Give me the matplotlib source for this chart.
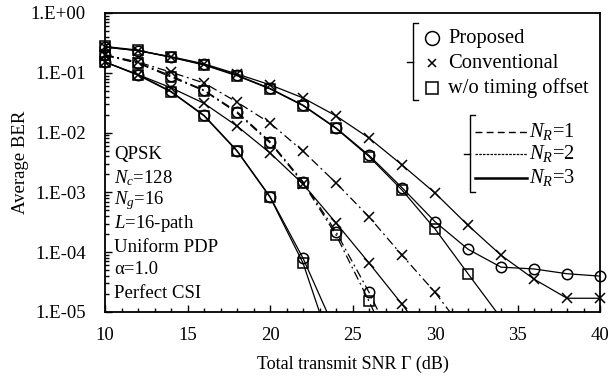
import numpy as np
import matplotlib
matplotlib.use("Agg")
import matplotlib.pyplot as plt
from matplotlib.lines import Line2D
from matplotlib.ticker import FuncFormatter, MultipleLocator, LogLocator, NullFormatter

plt.rcParams['font.family'] = ['Liberation Serif', 'DejaVu Serif']
plt.rcParams['mathtext.fontset'] = 'custom'
plt.rcParams['mathtext.rm'] = 'Liberation Serif'
plt.rcParams['mathtext.it'] = 'Liberation Serif:italic'

# ---------------- data (log10 BER) ----------------
snr = [10, 12, 14, 16, 18, 20, 22, 24, 26, 28, 30, 32, 34, 36, 38, 40]

# group 1 (highest BER, solid lines)
g1_proposed = [-0.57, -0.63, -0.74, -0.86, -1.04, -1.26, -1.54, -1.92, -2.38, -2.92, -3.49, -3.95, -4.25, -4.28, -4.36, -4.40]
g1_conventional = [-0.57, -0.63, -0.73, -0.85, -1.02, -1.20, -1.42, -1.72, -2.09, -2.54, -3.01, -3.55, -4.05, -4.45, -4.77, -4.77]
g1_wo_timing = [-0.56, -0.62, -0.74, -0.87, -1.05, -1.27, -1.55, -1.93, -2.40, -2.96, -3.61, -4.36, -5.10]

# group 2 (middle, dash-dot lines)
g2_proposed = [-0.70, -0.83, -1.05, -1.29, -1.65, -2.15, -2.82, -3.66, -4.67, -5.80]
g2_conventional = [-0.70, -0.82, -0.99, -1.17, -1.49, -1.84, -2.31, -2.84, -3.41, -4.05, -4.67, -5.40]
g2_wo_timing = [-0.71, -0.84, -1.07, -1.30, -1.67, -2.17, -2.84, -3.71, -4.82, -6.00]

# group 3 (lowest BER, solid lines)
g3_proposed = [-0.82, -1.03, -1.31, -1.71, -2.30, -3.07, -4.10, -5.34]
g3_conventional = [-0.82, -1.03, -1.25, -1.51, -1.89, -2.34, -2.86, -3.51, -4.18, -4.87, -5.60]
g3_wo_timing = [-0.82, -1.04, -1.32, -1.72, -2.31, -3.08, -4.18, -5.82]

scheme_labels = ['Proposed', 'Conventional', 'w/o timing offset']
nr_labels = ['$N_R$=1', '$N_R$=2', '$N_R$=3']
params_text = ['QPSK', '$N_c$=128', '$N_g$=16', '$L$=16-path', 'Uniform PDP', '\u03b1=1.0', 'Perfect CSI']

# ---------------- figure ----------------
W, H = 611, 378
fig = plt.figure(figsize=(W / 100, H / 100), dpi=100)
ax = fig.add_axes([105 / W, 1 - 312 / H, (600 - 105) / W, (312 - 13) / H])

markers = {'Proposed': 'o', 'Conventional': 'x', 'w/o timing offset': 's'}
groups = [
    ('-', [g1_proposed, g1_conventional, g1_wo_timing]),
    ((0, (7, 3, 1.5, 3)), [g2_proposed, g2_conventional, g2_wo_timing]),
    ('-', [g3_proposed, g3_conventional, g3_wo_timing]),
]

for ls, series in groups:
    for name, vals in zip(scheme_labels, series):
        x = np.array(snr[:len(vals)], dtype=float)
        y = 10.0 ** np.array(vals)
        ax.plot(x, y, linestyle=ls, color='black', lw=0.9)
        keep = y >= 1e-5
        mk = markers[name]
        ax.plot(x[keep], y[keep], linestyle='none', marker=mk, color='black',
                markerfacecolor='none', markersize=7.5,
                markeredgewidth=1.1, clip_on=False, zorder=3)

ax.set_yscale('log')
ax.set_xlim(10, 40)
ax.set_ylim(1e-5, 1)
ax.xaxis.set_major_locator(MultipleLocator(5))
ax.xaxis.set_minor_locator(MultipleLocator(1))
ax.yaxis.set_major_locator(LogLocator(base=10, numticks=10))
ax.yaxis.set_minor_locator(LogLocator(base=10, subs=np.arange(2, 10), numticks=20))
ax.yaxis.set_minor_formatter(NullFormatter())
ax.yaxis.set_major_formatter(FuncFormatter(lambda v, p: "1.E%+03d" % int(round(np.log10(v)))))
ax.tick_params(which='both', direction='in', top=False, right=False, labelsize=13.5, width=1.0)
ax.tick_params(which='major', length=5)
ax.tick_params(which='minor', length=3)
ax.tick_params(axis='y', which='major', pad=14)
ax.tick_params(axis='x', which='major', pad=11)
for s in ax.spines.values():
    s.set_linewidth(1.3)

ax.set_xlabel('Total transmit SNR \u0393 (dB)', fontsize=13, labelpad=8)
ax.set_ylabel('Average BER', fontsize=13.5, labelpad=1)

# parameter annotations
for i, t in enumerate(params_text):
    fig.text(114 / W, 1 - (155 + i * 23) / H, t, fontsize=13.5, va='center', ha='left')


def fx(px):
    return px / W


def fy(py):
    return 1 - py / H


def bracket(x, y0, y1, ym):
    fig.add_artist(Line2D([fx(x + 5), fx(x), fx(x), fx(x + 5)], [fy(y0), fy(y0), fy(y1), fy(y1)],
                          color='black', lw=1.0))
    fig.add_artist(Line2D([fx(x - 6), fx(x)], [fy(ym), fy(ym)], color='black', lw=1.0))


# legend 1: schemes
bracket(413, 23, 100, 62)
for name, yy in zip(scheme_labels, [38, 63, 88]):
    mk = markers[name]
    fig.add_artist(Line2D([fx(432)], [fy(yy)], marker=mk, color='black', markerfacecolor='none',
                          markersize=10 if mk == 'o' else (6 if mk == 'x' else 9), markeredgewidth=1.1))
    fig.text(fx(448), fy(yy), name, fontsize=14.8, va='center', ha='left')

# legend 2: number of receive antennas
bracket(470, 115, 192, 154)
nr_styles = [((0, (5, 3)), 1.0), ((0, (2, 1)), 0.9), ('-', 1.8)]
for lab, (ls, lw), yy in zip(nr_labels, nr_styles, [132, 154, 178]):
    fig.add_artist(Line2D([fx(475), fx(527)], [fy(yy), fy(yy)], color='black', lw=lw, linestyle=ls))
    fig.text(fx(529), fy(yy), lab, fontsize=14.8, va='center', ha='left')

fig.savefig('out.png', dpi=100)
